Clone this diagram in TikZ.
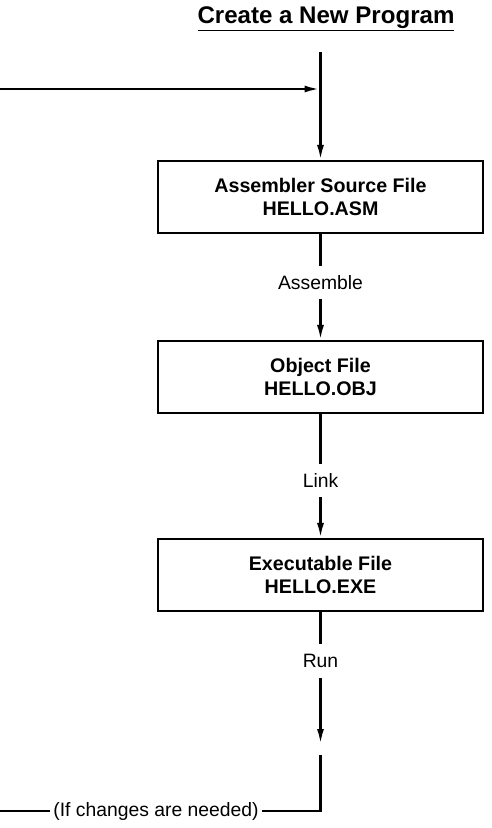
\documentclass[tikz,border=0pt]{standalone}
\usepackage{fontspec}
\setmainfont{Liberation Sans}
\usetikzlibrary{arrows.meta,positioning}

\begin{document}
\begin{tikzpicture}[x=0.2mm,y=-0.2mm,line width=1.3pt,
  every node/.style={font=\fontsize{11}{13}\selectfont},
  filebox/.style={draw,line width=1.2pt,minimum width=6.5cm,minimum height=1.44cm,align=center,font=\fontsize{11.2}{13}\selectfont\bfseries},
  steplabel/.style={inner sep=0pt,minimum height=0.62cm},
  flow/.style={-{Latex[length=0.3cm,width=0.14cm]}}]
\useasboundingbox (0,0) rectangle (492,828);
% title
\node (title) at (326,19) {\fontsize{13.7}{16}\selectfont\bfseries\underline{Create a New Program}};
% boxes
\node[filebox] (asm) at (320.5,197) {Assembler Source File\\HELLO.ASM};
\node[filebox] (obj) at (320.5,377) {Object File\\HELLO.OBJ};
\node[filebox] (exe) at (320.5,575) {Executable File\\HELLO.EXE};
% step labels
\node[steplabel] (assemble) at (320.5,282.5) {Assemble};
\node[steplabel] (link) at (320.5,480.5) {Link};
\node[steplabel,minimum height=0.64cm] (run) at (320.5,661) {Run};
% loop ends
\coordinate (start) at (320.5,52);
\coordinate (loopout) at (0,89);
\coordinate (join) at (319.5,89);
\coordinate (runend) at (320.5,744);
\coordinate (loopin) at (320.5,755);
\coordinate (corner) at (320.5,811);
\coordinate (leftend) at (0,811);
\node[inner xsep=1.5pt,inner ysep=0pt] (note) at (156,811) {(If changes are needed)};
% connectors
\draw[flow] (start) -- (asm.north);
\draw[flow] (loopout) -- (join);
\draw (asm.south) -- (assemble.north);
\draw[flow] (assemble.south) -- (obj.north);
\draw (obj.south) -- (link.north);
\draw[flow] (link.south) -- (exe.north);
\draw (exe.south) -- (run.north);
\draw[flow] (run.south) -- (runend);
\draw (loopin) -- (corner) -- (note.east);
\draw (note.west) -- (leftend);
\end{tikzpicture}
\end{document}
